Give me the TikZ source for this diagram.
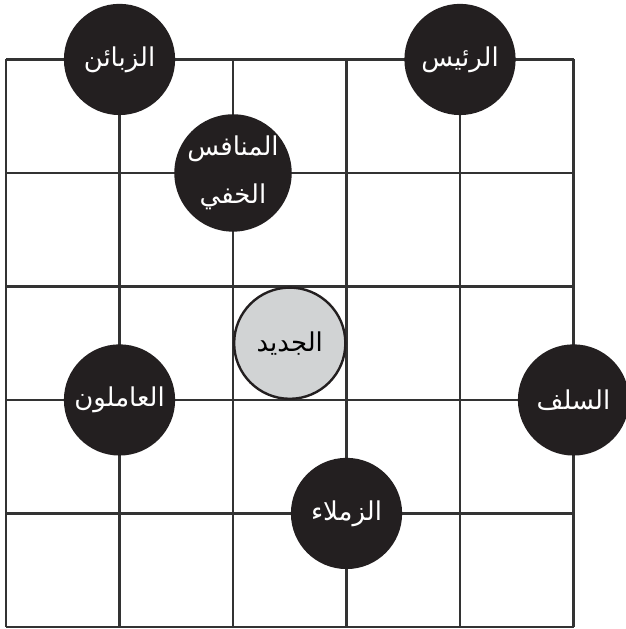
\documentclass[tikz,border=0pt]{standalone}
\usepackage{fontspec}
\usepackage{tikz}
\TeXXeTstate=1
\newfontfamily\arabicfont[Script=Arabic]{DejaVu Sans}
\definecolor{ink}{HTML}{231F20}
\definecolor{rule}{HTML}{333333}
\definecolor{lightdot}{HTML}{D1D3D4}

\begin{document}
\begin{tikzpicture}[
  x=2cm,y=2cm,
  gridline/.style={line width=1.3pt,draw=rule},
  member/.style={circle,fill=ink,text=white,minimum size=1.96cm,inner sep=0pt,
    align=center,font=\arabicfont\fontsize{13}{24}\selectfont},
  newcomer/.style={member,fill=lightdot,draw=ink,line width=1.2pt,text=black}
]
\useasboundingbox (-0.053,-0.018) rectangle (5.46,5.524);
\draw[gridline,step={(1,1)}] (0,0) grid (5,5);
\node[member] (customers) at (1,5) {\beginR الزبائن\endR};
\node[member] (boss) at (4,5) {\beginR الرئيس\endR};
\node[member] (rival) at (2,4) {\beginR المنافس\endR\\\beginR الخفي\endR};
\node[newcomer] (newcomer) at (2.5,2.5) {\beginR الجديد\endR};
\node[member] (workers) at (1,2) {\beginR العاملون\endR};
\node[member] (predecessor) at (5,2) {\beginR السلف\endR};
\node[member] (colleagues) at (3,1) {\beginR الزملاء\endR};
\end{tikzpicture}
\end{document}
